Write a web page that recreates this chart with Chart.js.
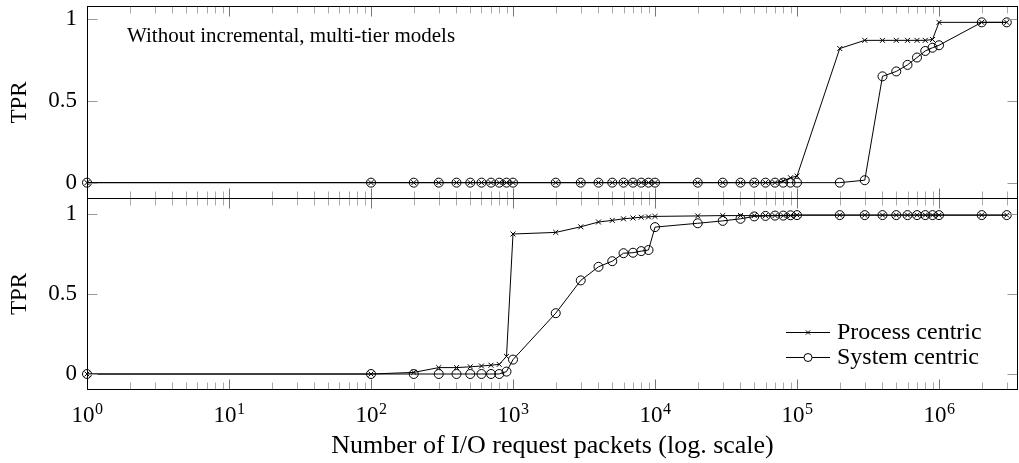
<!DOCTYPE html>
<html>
<head>
<meta charset="utf-8">
<script src="https://cdn.jsdelivr.net/npm/chart.js@4.4.1/dist/chart.umd.min.js"></script>
<style>
  body { margin: 0; background: #fff; }
  #wrap { position: relative; width: 1019px; height: 463px; }
  #wrap canvas { position: absolute; left: 0; }
  #bottomChart { top: 190px; }
  #topChart { top: 0; }
</style>
</head>
<body>
<div id="wrap">
  <canvas id="bottomChart" width="1019" height="273"></canvas>
  <canvas id="topChart" width="1019" height="200"></canvas>
</div>
<script>
// number of I/O request packets
var packets = [1,
  100, 200, 300, 400, 500, 600, 700, 800, 900,
  1000, 2000, 3000, 4000, 5000, 6000, 7000, 8000, 9000,
  10000, 20000, 30000, 40000, 50000, 60000, 70000, 80000, 90000,
  100000, 200000, 300000, 400000, 500000, 600000, 700000, 800000, 900000,
  1000000, 2000000, 3000000];

// without incremental, multi-tier models
var topProcess = [0,
  0, 0, 0, 0, 0, 0, 0, 0, 0,
  0, 0, 0, 0, 0, 0, 0, 0, 0,
  0, 0, 0, 0, 0, 0, 0, 0.01, 0.03,
  0.04, 0.82, 0.87, 0.87, 0.87, 0.87, 0.87, 0.87, 0.875,
  0.98, 0.98, 0.98];
var topSystem = [0,
  0, 0, 0, 0, 0, 0, 0, 0, 0,
  0, 0, 0, 0, 0, 0, 0, 0, 0,
  0, 0, 0, 0, 0, 0, 0, 0, 0,
  0, 0, 0.015, 0.65, 0.68, 0.72, 0.765, 0.805, 0.825,
  0.84, 0.98, 0.98];

// with incremental, multi-tier models
var bottomProcess = [0,
  0, 0.01, 0.04, 0.04, 0.045, 0.05, 0.055, 0.06, 0.11,
  0.875, 0.885, 0.92, 0.95, 0.96, 0.97, 0.975, 0.98, 0.982,
  0.985, 0.988, 0.99, 0.99, 0.99, 0.99, 0.99, 0.99, 0.99,
  0.993, 0.993, 0.993, 0.993, 0.993, 0.993, 0.993, 0.993, 0.993,
  0.993, 0.993, 0.993];
var bottomSystem = [0,
  0, 0, 0, 0, 0, 0, 0, 0, 0.015,
  0.09, 0.38, 0.585, 0.67, 0.705, 0.755, 0.758, 0.768, 0.775,
  0.918, 0.942, 0.957, 0.97, 0.985, 0.988, 0.99, 0.99, 0.992,
  0.993, 0.993, 0.993, 0.993, 0.993, 0.993, 0.993, 0.993, 0.993,
  0.993, 0.993, 0.993];

var seriesNames = ['Process centric', 'System centric'];
var yTicks = [0, 0.5, 1];
var xMin = 1, xMax = 3.6e6;

var FONT = "'Liberation Serif', 'Times New Roman', serif";

// 1,2,...,9,10,20,... up to xMax for the log axis ticks
var xTickValues = [];
for (var e = 0; e <= 6; e++) {
  for (var m = 1; m <= 9; m++) {
    var v = m * Math.pow(10, e);
    if (v <= xMax) xTickValues.push(v);
  }
}
function isDecade(v) {
  var l = Math.log10(v);
  return Math.abs(l - Math.round(l)) < 1e-9;
}

function points(ys) {
  return packets.map(function (x, i) { return {x: x, y: ys[i]}; });
}

function makeDatasets(proc, sys) {
  return [
    {
      label: seriesNames[0],
      data: points(proc),
      borderColor: '#000',
      backgroundColor: '#000',
      borderWidth: 1,
      pointStyle: 'crossRot',
      pointRadius: 3.5,
      pointBorderWidth: 1,
      pointBorderColor: '#000',
      tension: 0,
      clip: false
    },
    {
      label: seriesNames[1],
      data: points(sys),
      borderColor: '#000',
      backgroundColor: 'rgba(0,0,0,0)',
      borderWidth: 1,
      pointStyle: 'circle',
      pointRadius: 4.5,
      pointBorderWidth: 1,
      pointBorderColor: '#000',
      pointBackgroundColor: 'rgba(0,0,0,0)',
      tension: 0,
      clip: false
    }
  ];
}

// frame + inward tick marks on all four sides
var framePlugin = {
  id: 'frame',
  afterDatasetsDraw: function (chart) {
    var ctx = chart.ctx, a = chart.chartArea;
    var xs = chart.scales.x, ys = chart.scales.y;
    var L = Math.round(a.left) + 0.5, R = Math.round(a.right) - 0.5;
    var T = Math.round(a.top) + 0.5, B = Math.round(a.bottom) - 0.5;
    ctx.save();
    ctx.lineWidth = 1;
    xTickValues.forEach(function (v) {
      var px = Math.round(xs.getPixelForValue(v)) + 0.5;
      var major = isDecade(v);
      var len = major ? 10 : 7;
      ctx.strokeStyle = major ? '#777' : '#aaa';
      ctx.beginPath();
      ctx.moveTo(px, T); ctx.lineTo(px, T + len);
      ctx.moveTo(px, B); ctx.lineTo(px, B - len);
      ctx.stroke();
    });
    ctx.strokeStyle = '#999';
    yTicks.forEach(function (v) {
      var py = Math.round(ys.getPixelForValue(v)) + 0.5;
      ctx.beginPath();
      ctx.moveTo(L, py); ctx.lineTo(L + 10, py);
      ctx.moveTo(R, py); ctx.lineTo(R - 10, py);
      ctx.stroke();
    });
    ctx.strokeStyle = '#000';
    ctx.strokeRect(L, T, R - L, B - T);
    ctx.restore();
  }
};

// decade labels 10^k with a raised exponent, placed on the x scale
var decadeLabelPlugin = {
  id: 'decadeLabels',
  afterDraw: function (chart) {
    var o = chart.options.plugins.decadeLabels;
    if (!o) return;
    var ctx = chart.ctx, xs = chart.scales.x;
    ctx.save();
    ctx.fillStyle = '#000';
    ctx.textBaseline = 'alphabetic';
    ctx.textAlign = 'left';
    xTickValues.filter(isDecade).forEach(function (v) {
      var base = '10', exp = String(Math.round(Math.log10(v)));
      ctx.font = o.size + 'px ' + FONT;
      var wb = ctx.measureText(base).width;
      ctx.font = o.expSize + 'px ' + FONT;
      var we = ctx.measureText(exp).width;
      var x0 = xs.getPixelForValue(v) - (wb + we) / 2;
      var y = xs.top + o.baseline;
      ctx.font = o.size + 'px ' + FONT;
      ctx.fillText(base, x0, y);
      ctx.font = o.expSize + 'px ' + FONT;
      ctx.fillText(exp, x0 + wb + 0.5, y - o.raise);
    });
    ctx.restore();
  }
};

// key with line + marker, placed inside the lower panel
var keyPlugin = {
  id: 'seriesKey',
  afterDraw: function (chart) {
    var o = chart.options.plugins.seriesKey;
    if (!o) return;
    var ctx = chart.ctx;
    ctx.save();
    chart.data.datasets.forEach(function (ds, i) {
      var y = o.y + i * o.gap + 0.5;
      ctx.strokeStyle = '#000';
      ctx.lineWidth = 1;
      ctx.beginPath();
      ctx.moveTo(o.x, y); ctx.lineTo(o.x + o.lineLen, y);
      ctx.stroke();
      ctx.fillStyle = '#fff';
      Chart.helpers.drawPoint(ctx, {
        pointStyle: ds.pointStyle, radius: ds.pointStyle === 'circle' ? 4 : 3,
        borderWidth: 1, rotation: 0
      }, o.x + o.lineLen / 2, y);
      ctx.fillStyle = '#000';
      ctx.font = o.size + 'px ' + FONT;
      ctx.textBaseline = 'middle';
      ctx.textAlign = 'left';
      ctx.fillText(ds.label, o.x + o.lineLen + 7, y);
    });
    ctx.restore();
  }
};

// panel caption in the upper panel
var captionPlugin = {
  id: 'caption',
  afterDraw: function (chart) {
    var c = chart.options.plugins.caption;
    if (!c) return;
    var ctx = chart.ctx;
    ctx.save();
    ctx.fillStyle = '#000';
    ctx.font = c.size + 'px ' + FONT;
    ctx.textBaseline = 'middle';
    ctx.fillText(c.text, c.x, c.y);
    ctx.restore();
  }
};

function yScale(min, max) {
  return {
    type: 'linear',
    min: min,
    max: max,
    afterBuildTicks: function (s) { s.ticks = yTicks.map(function (v) { return {value: v}; }); },
    afterFit: function (s) {
      s.width = 87;
      s.paddingTop = 0;
      s.paddingBottom = 0;
    },
    grid: {display: false, drawTicks: false},
    border: {display: false},
    ticks: {
      color: '#000',
      padding: 10,
      font: {family: FONT, size: 23},
      callback: function (v) { return String(v); }
    },
    title: {
      display: true,
      text: 'TPR',
      color: '#000',
      font: {family: FONT, size: 23},
      padding: {top: 6, bottom: 0}
    }
  };
}

function xScale(show) {
  return {
    type: 'logarithmic',
    min: xMin,
    max: xMax,
    display: show,
    afterBuildTicks: function (s) { s.ticks = xTickValues.map(function (v) { return {value: v}; }); },
    afterFit: function (s) {
      if (show) s.height = 73;
      s.paddingLeft = 0;
      s.paddingRight = 0;
    },
    grid: {display: false, drawTicks: false},
    border: {display: false},
    ticks: {display: false},
    title: {
      display: true,
      text: 'Number of I/O request packets (log. scale)',
      color: '#000',
      font: {family: FONT, size: 26},
      padding: {top: 0, bottom: 1}
    }
  };
}

var common = {
  responsive: false,
  animation: false,
  events: [],
  devicePixelRatio: 1
};

new Chart(document.getElementById('topChart'), {
  type: 'line',
  data: {datasets: makeDatasets(topProcess, topSystem)},
  options: Object.assign({}, common, {
    layout: {autoPadding: false, padding: {top: 6, right: 1, bottom: 1, left: 0}},
    scales: {x: xScale(false), y: yScale(-0.1, 1.08)},
    plugins: {
      legend: {display: false},
      tooltip: {enabled: false},
      caption: {text: 'Without incremental, multi-tier models', x: 127, y: 36, size: 21}
    }
  }),
  plugins: [framePlugin, captionPlugin]
});

new Chart(document.getElementById('bottomChart'), {
  type: 'line',
  data: {datasets: makeDatasets(bottomProcess, bottomSystem)},
  options: Object.assign({}, common, {
    layout: {autoPadding: false, padding: {top: 8, right: 1, bottom: 0, left: 0}},
    scales: {x: xScale(true), y: yScale(-0.1, 1.1)},
    plugins: {
      legend: {display: false},
      tooltip: {enabled: false},
      seriesKey: {x: 786, y: 142, gap: 25, lineLen: 44, size: 24},
      decadeLabels: {size: 23, expSize: 16, baseline: 32, raise: 8}
    }
  }),
  plugins: [framePlugin, keyPlugin, decadeLabelPlugin]
});
</script>
</body>
</html>
